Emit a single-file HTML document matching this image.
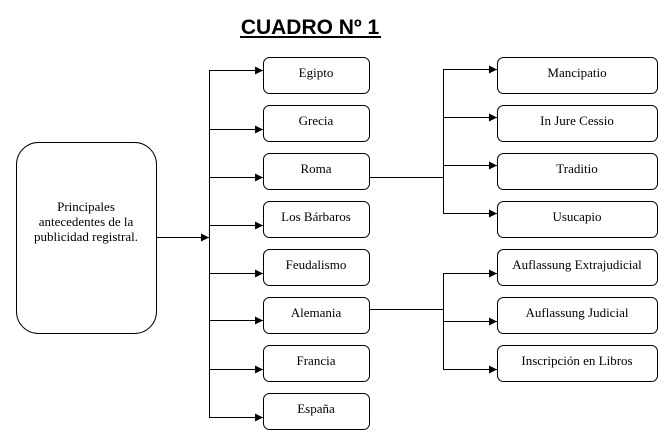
<!DOCTYPE html>
<html><head><meta charset="utf-8"><style>
html,body{margin:0;padding:0;background:#fff;width:664px;height:440px;overflow:hidden}
svg text{font-family:"Liberation Serif",serif;font-size:13px;fill:#000}
</style></head><body>
<svg width="664" height="440" xmlns="http://www.w3.org/2000/svg">
<defs><marker id="a" markerWidth="8" markerHeight="8" refX="8" refY="4" orient="auto" markerUnits="userSpaceOnUse"><path d="M0,0 L8,4 L0,8 z" fill="#000"/></marker></defs>
<text x="310" y="34" text-anchor="middle" style="font-family:'Liberation Sans',sans-serif;font-size:21px;font-weight:bold">CUADRO  Nº 1</text>
<line x1="240" y1="37" x2="381" y2="37" stroke="#000" stroke-width="2"/>
<rect x="16.5" y="142.5" width="140" height="191" rx="22" fill="#fff" stroke="#000"/>
<text x="86" y="211" text-anchor="middle">Principales</text>
<text x="86" y="226" text-anchor="middle">antecedentes de la</text>
<text x="86" y="241" text-anchor="middle">publicidad registral.</text>
<g stroke="#000" fill="none">
<line x1="157" y1="237.5" x2="209" y2="237.5" marker-end="url(#a)"/>
<line x1="209.5" y1="70" x2="209.5" y2="417.5"/>
<line x1="209" y1="70.5" x2="263" y2="70.5" marker-end="url(#a)"/>
<line x1="209" y1="129.5" x2="263" y2="129.5" marker-end="url(#a)"/>
<line x1="209" y1="177.5" x2="263" y2="177.5" marker-end="url(#a)"/>
<line x1="209" y1="225.5" x2="263" y2="225.5" marker-end="url(#a)"/>
<line x1="209" y1="273.5" x2="263" y2="273.5" marker-end="url(#a)"/>
<line x1="209" y1="320.5" x2="263" y2="320.5" marker-end="url(#a)"/>
<line x1="209" y1="369.5" x2="263" y2="369.5" marker-end="url(#a)"/>
<line x1="209" y1="417.5" x2="263" y2="417.5" marker-end="url(#a)"/>
<line x1="369" y1="177.5" x2="443" y2="177.5"/>
<line x1="443.5" y1="69" x2="443.5" y2="213.5"/>
<line x1="443" y1="69.5" x2="497" y2="69.5" marker-end="url(#a)"/>
<line x1="443" y1="117.5" x2="497" y2="117.5" marker-end="url(#a)"/>
<line x1="443" y1="165.5" x2="497" y2="165.5" marker-end="url(#a)"/>
<line x1="443" y1="213.5" x2="497" y2="213.5" marker-end="url(#a)"/>
<line x1="369" y1="309.5" x2="443" y2="309.5"/>
<line x1="443.5" y1="273" x2="443.5" y2="369.5"/>
<line x1="443" y1="273.5" x2="497" y2="273.5" marker-end="url(#a)"/>
<line x1="443" y1="321.5" x2="497" y2="321.5" marker-end="url(#a)"/>
<line x1="443" y1="369.5" x2="497" y2="369.5" marker-end="url(#a)"/>
</g>
<g fill="#fff" stroke="#000">
<rect x="263.5" y="57.5" width="106" height="36" rx="6"/>
<rect x="263.5" y="105.5" width="106" height="36" rx="6"/>
<rect x="263.5" y="153.5" width="106" height="36" rx="6"/>
<rect x="263.5" y="201.5" width="106" height="36" rx="6"/>
<rect x="263.5" y="249.5" width="106" height="36" rx="6"/>
<rect x="263.5" y="297.5" width="106" height="36" rx="6"/>
<rect x="263.5" y="345.5" width="106" height="36" rx="6"/>
<rect x="263.5" y="393.5" width="106" height="36" rx="6"/>
<rect x="497.5" y="57.5" width="160" height="36" rx="6"/>
<rect x="497.5" y="105.5" width="160" height="36" rx="6"/>
<rect x="497.5" y="153.5" width="160" height="36" rx="6"/>
<rect x="497.5" y="201.5" width="160" height="36" rx="6"/>
<rect x="497.5" y="249.5" width="160" height="36" rx="6"/>
<rect x="497.5" y="297.5" width="160" height="36" rx="6"/>
<rect x="497.5" y="345.5" width="160" height="36" rx="6"/>
</g>
<g text-anchor="middle">
<text x="316" y="77">Egipto</text>
<text x="316" y="125">Grecia</text>
<text x="316" y="173">Roma</text>
<text x="316" y="221">Los Bárbaros</text>
<text x="316" y="269">Feudalismo</text>
<text x="316" y="317">Alemania</text>
<text x="316" y="365">Francia</text>
<text x="316" y="413">España</text>
<text x="577" y="77">Mancipatio</text>
<text x="577" y="125">In Jure Cessio</text>
<text x="577" y="173">Traditio</text>
<text x="577" y="221">Usucapio</text>
<text x="577" y="269">Auflassung Extrajudicial</text>
<text x="577" y="317">Auflassung Judicial</text>
<text x="577" y="365">Inscripción en Libros</text>
</g>
</svg>
</body></html>
